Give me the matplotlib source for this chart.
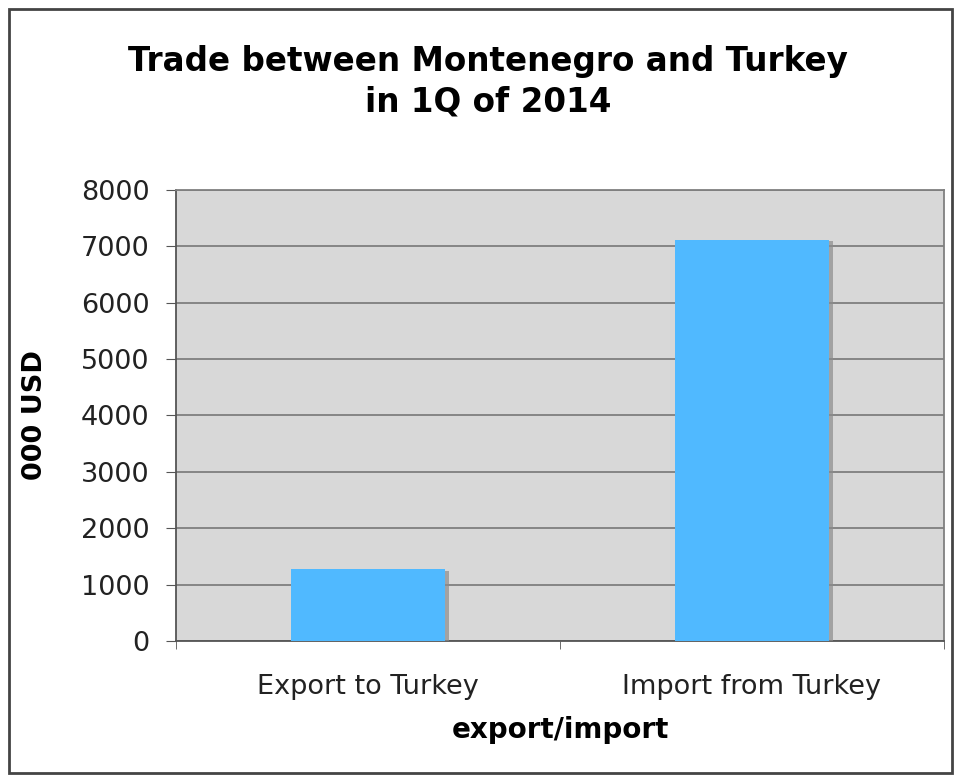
import matplotlib
matplotlib.use("Agg")
import matplotlib.pyplot as plt
import matplotlib.patheffects as pe
from matplotlib.patches import Rectangle

categories = ["Export to Turkey", "Import from Turkey"]
values = [1275, 7115]
yticks = [0, 1000, 2000, 3000, 4000, 5000, 6000, 7000, 8000]

fig = plt.figure(figsize=(9.58, 7.76), dpi=100)
ax = fig.add_axes([176 / 958, 1 - 641 / 776, 768 / 958, 451 / 776])

# outer border of the chart
fig.patches.append(Rectangle((9 / 958, 3 / 776), 943 / 958, 764 / 776,
                             transform=fig.transFigure, fill=False,
                             edgecolor="#444444", linewidth=2))

ax.set_facecolor("#d8d8d8")
bars = ax.bar(range(len(categories)), values, width=0.4, color="#50b9ff", zorder=3)
for b in bars:
    b.set_path_effects([pe.SimplePatchShadow(offset=(3, -1), shadow_rgbFace="#8c8c8c", alpha=0.7),
                        pe.Normal()])

ax.set_xlim(-0.5, 1.5)
ax.set_ylim(0, 8000)
ax.set_yticks(yticks)
ax.set_yticklabels([str(t) for t in yticks], fontsize=19.5, color="#222222")
ax.yaxis.grid(True, color="#7f7f7f", linewidth=1.3, zorder=1)
ax.set_axisbelow(True)

ax.set_xticks([0, 1])
ax.set_xticklabels(categories, fontsize=19.5, color="#222222")
ax.tick_params(axis="x", length=0, pad=24)
ax.set_xticks([-0.5, 0.5, 1.5], minor=True)
ax.tick_params(axis="x", which="minor", length=6, color="#555555")
ax.tick_params(axis="y", length=7, color="#555555", pad=12)

for side in ["top", "right"]:
    ax.spines[side].set_color("#808080")
    ax.spines[side].set_linewidth(1.3)
for side in ["left", "bottom"]:
    ax.spines[side].set_color("#555555")
    ax.spines[side].set_linewidth(1.3)

ax.set_ylabel("000 USD", fontsize=19.5, fontweight="bold", labelpad=24)
ax.set_xlabel("export/import", fontsize=20, fontweight="bold", labelpad=11)

fig.text(488 / 958, 1 - 82 / 776, "Trade between Montenegro and Turkey\nin 1Q of 2014",
         ha="center", va="center", fontsize=23.5, fontweight="bold", linespacing=1.3)

fig.savefig("out.png", dpi=100)
